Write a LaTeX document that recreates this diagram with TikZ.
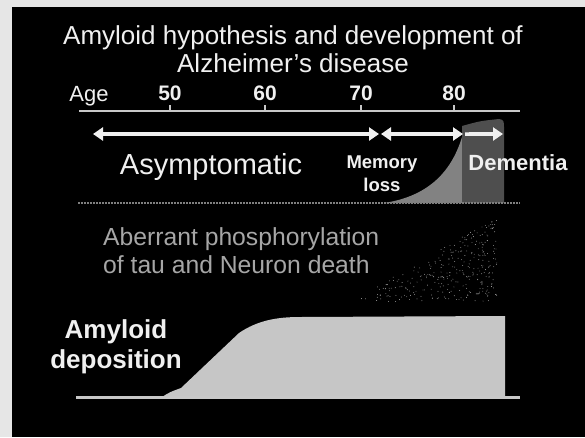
\documentclass[tikz,border=0pt]{standalone}
\usepackage{fontspec}
\setmainfont{Liberation Sans}
\usetikzlibrary{arrows.meta}
\definecolor{framegray}{HTML}{E6E6E6}
\definecolor{inkwhite}{HTML}{F0F0F0}
\definecolor{linegray}{HTML}{C8C8C8}
\definecolor{taugray}{HTML}{A6A6A6}
\definecolor{memgray}{HTML}{828282}
\definecolor{demgray}{HTML}{4E4E4E}
\definecolor{amygray}{HTML}{C6C6C6}
\tikzset{
  plain/.style={text=inkwhite, inner sep=0pt},
  phase/.style={draw=inkwhite, line width=3.5pt,
    {Triangle[width=13pt,length=10pt]}-{Triangle[width=13pt,length=10pt]}},
  agetick/.style={linegray, line width=1.5pt},
}
\begin{document}
\begin{tikzpicture}[x=1pt,y=-1pt]
  % frame and background
  \fill[black] (0,0) rectangle (585,437);
  \fill[framegray] (0,0) rectangle (12,437);
  \fill[framegray] (0,0) rectangle (585,7);

  % title
  \node[plain, align=center, font=\fontsize{26}{28}\selectfont] (title) at (293,49)
    {Amyloid hypothesis and development of\\Alzheimer's disease};

  % age axis
  \coordinate (axisL) at (79,111);
  \coordinate (axisR) at (520,111);
  \draw[linegray, line width=2.5pt] (axisL) -- (axisR);
  \node[plain, font=\fontsize{22}{22}\selectfont] (age) at (89,96) {Age};
  \foreach \yr/\x in {50/170,60/265,70/361,80/454} {
    \coordinate (t\yr) at (\x,111);
    \draw[agetick] (t\yr) -- ++(0,-6);
    \node[plain, font=\fontsize{21}{21}\bfseries] (n\yr) at (\x,93) {\yr};
  }

  % symptom curves
  \fill[memgray] (384,203) .. controls (430,196) and (452,170) .. (462,137)
    -- (462,203) -- cycle;
  \fill[demgray] (462,203) -- (462,126) .. controls (480,121) .. (499,119)
    .. controls (504,120) .. (504,130) -- (504,203) -- cycle;
  \draw[gray, line width=1.5pt, dash pattern=on 2pt off 1pt] (78,203) -- (520,203);

  % phases
  \coordinate (p1L) at (93,134);
  \coordinate (p1R) at (379,134);
  \coordinate (p2L) at (381,134);
  \coordinate (p2R) at (463,134);
  \coordinate (p3L) at (465,134);
  \coordinate (p3R) at (503,134);
  \draw[phase] (p1L) -- (p1R);
  \draw[phase] (p2L) -- (p2R);
  \draw[phase, {Butt Cap}-{Triangle[width=13pt,length=10pt]}] (p3L) -- (p3R);

  \node[plain, font=\fontsize{29}{30}\selectfont] (asym) at (211,167) {Asymptomatic};
  \node[plain, align=center, font=\fontsize{18.5}{23}\bfseries] (memory) at (382,174) {Memory\\loss};
  \node[plain, font=\fontsize{22}{24}\bfseries] (dementia) at (518,163) {Dementia};

  % tau dots
  \pgfmathsetseed{4711}
  \foreach \k in {1,...,320} {
    \pgfmathsetmacro\u{rnd}
    \pgfmathsetmacro\v{rnd}
    \pgfmathsetmacro\uu{(\u+\v>1) ? 1-\u : \u}
    \pgfmathsetmacro\vv{(\u+\v>1) ? 1-\v : \v}
    \fill[taugray] ({497-147*\uu},{217+85*\uu+85*\vv}) circle (0.45pt);
  }
  \node[plain, text=taugray, align=left, anchor=west,
    font=\fontsize{24.7}{28}\selectfont] (tau) at (103,251)
    {Aberrant phosphorylation\\of tau and Neuron death};

  % amyloid deposition
  \fill[amygray] (162,397) .. controls (170,392) .. (181,388) -- (239,333)
    .. controls (258,320) and (278,317) .. (300,317) -- (505,316) -- (505,397) -- cycle;
  \coordinate (baseL) at (76,397);
  \coordinate (baseR) at (520,397);
  \draw[linegray, line width=3pt] (baseL) -- (baseR);
  \node[plain, align=center, font=\fontsize{26}{30}\bfseries] (amyloid) at (116,347)
    {Amyloid\\deposition};
\end{tikzpicture}
\end{document}
